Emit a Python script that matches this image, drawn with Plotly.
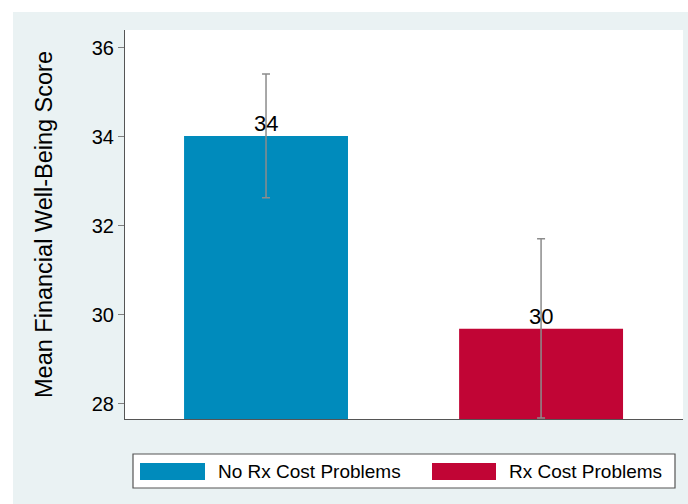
import plotly.graph_objects as go

categories = ["No Rx Cost Problems", "Rx Cost Problems"]
means = [34.02, 29.69]
ci_upper = [35.41, 31.71]
ci_lower = [32.63, 27.68]
colors = ["#008BBC", "#C10535"]
y_ticks = [28, 30, 32, 34, 36]

W, H = 688, 504
L, R, T, B = 125, 5, 30, 85
pw, ph = W - L - R, H - T - B


def px(x):
    return (x - L) / pw


def py(y):
    return (H - B - y) / ph


fig = go.Figure()
annotations = []
for i, cat in enumerate(categories):
    fig.add_trace(go.Bar(
        x=[i], y=[means[i]], name=cat, width=0.596,
        marker=dict(color=colors[i], line=dict(width=0)),
        error_y=dict(type="data", symmetric=False,
                     array=[ci_upper[i] - means[i]],
                     arrayminus=[means[i] - ci_lower[i]],
                     color="#8C8C8C", thickness=1.5, width=4),
        showlegend=False,
    ))
    annotations.append(dict(x=i, y=means[i], xref="x", yref="y",
                            text=f"{means[i]:.0f}", showarrow=False,
                            xanchor="center", yanchor="bottom", yshift=-2,
                            font=dict(size=22, color="black")))

shapes = [
    # graph region background
    dict(type="rect", xref="paper", yref="paper", layer="below",
         x0=px(13), x1=px(W + 2), y0=py(H + 2), y1=py(12),
         fillcolor="#EAF2F3", line=dict(width=0)),
    # plot region
    dict(type="rect", xref="paper", yref="paper", layer="below",
         x0=0, x1=1, y0=0, y1=1,
         fillcolor="white", line=dict(width=0)),
    # legend box
    dict(type="rect", xref="paper", yref="paper",
         x0=px(133), x1=px(675), y0=py(488), y1=py(454),
         fillcolor="white", line=dict(color="#555555", width=1.2)),
]
swatch_x = [(140, 205), (432, 496)]
text_x = [216, 507]
for i, cat in enumerate(categories):
    shapes.append(dict(type="rect", xref="paper", yref="paper",
                       x0=px(swatch_x[i][0]), x1=px(swatch_x[i][1]),
                       y0=py(480), y1=py(463),
                       fillcolor=colors[i], line=dict(width=0)))
    annotations.append(dict(xref="paper", yref="paper", x=px(text_x[i]), y=py(471.5),
                            text=cat, showarrow=False, xanchor="left", yanchor="middle",
                            font=dict(size=19, color="black")))

fig.update_layout(
    width=W, height=H,
    margin=dict(l=L, r=R, t=T, b=B, pad=0),
    paper_bgcolor="white", plot_bgcolor="white",
    font=dict(family="Liberation Sans, Arial, sans-serif", color="black"),
    barmode="overlay",
    shapes=shapes, annotations=annotations,
    xaxis=dict(range=[-0.5127, 1.516], showticklabels=False, ticks="",
               showgrid=False, zeroline=False, showline=True,
               linecolor="#555555", linewidth=1),
    yaxis=dict(range=[27.66, 36.4], tickvals=y_ticks, ticks="outside",
               ticklen=6, tickcolor="#7F7F7F", tickwidth=1,
               tickfont=dict(size=20), showgrid=False, zeroline=False,
               showline=True, linecolor="#555555", linewidth=1,
               title=dict(text="Mean Financial Well-Being Score",
                          font=dict(size=23.5), standoff=32)),
)

fig.write_html("out.html")
